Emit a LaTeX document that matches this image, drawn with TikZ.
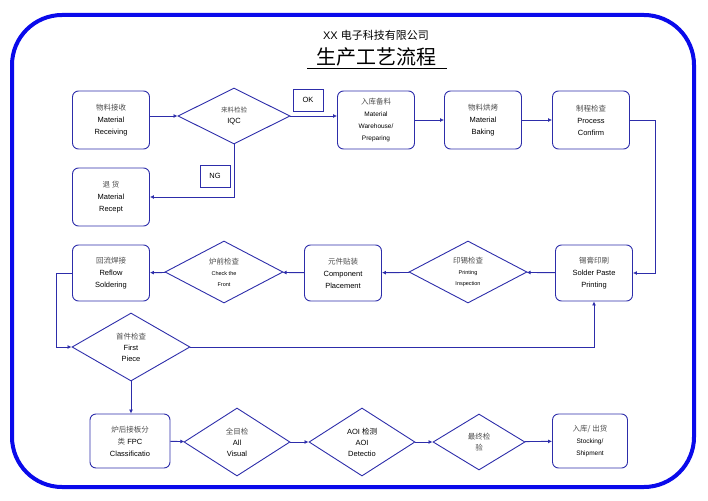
\documentclass[tikz,border=0pt]{standalone}
\usepackage{fontspec}
\setmainfont{Liberation Sans}
\newfontfamily\cjk{Noto Sans CJK SC}
\usetikzlibrary{shapes.geometric,arrows.meta}
\definecolor{frameblue}{RGB}{10,10,235}
\definecolor{nb}{RGB}{45,45,170}
\begin{document}
\begin{tikzpicture}[x=1pt,y=-1pt,
 box/.style={draw=nb,line width=0.9pt,rounded corners=6pt,minimum width=77pt,minimum height=58pt,align=center,font=\fontsize{7.5}{12}\selectfont,text=black},
 dia/.style={draw=nb,line width=0.9pt,diamond,inner sep=0pt,align=center,font=\fontsize{7.5}{11}\selectfont},
 tag/.style={draw=nb,line width=0.8pt,minimum width=30pt,minimum height=22pt,font=\fontsize{7.5}{9}\selectfont},
 con/.style={draw=nb,line width=0.9pt,-{Latex[length=4pt,width=4pt]}}]
\useasboundingbox (0,0) rectangle (708,500);
\draw[frameblue,line width=4pt,rounded corners=50pt] (12,15) rectangle (694,487);
\node (t1) at (376,35) {\fontsize{11}{13}\selectfont XX {\cjk 电子科技有限公司}};
\node (t2) at (376,57) {\fontsize{20}{22}\selectfont\cjk 生产工艺流程\ };
\draw[line width=0.8pt] (307,68) -- (447,68);
% row 1
\node[box] (a) at (111,120) {{\cjk\color{black!70}物料接收}\\Material\\Receiving};
\node[dia,aspect=2,minimum width=112pt,minimum height=56pt] (b) at (234,116) {{\cjk\color{black!70}\fontsize{6.5}{9}\selectfont 来料检验}\\IQC};
\node[tag] (ok) at (308,100) {OK};
\node[box] (c) at (376,120) {{\cjk\color{black!70}入库备料}\\{\fontsize{6.5}{9}\selectfont Material}\\{\fontsize{6.5}{9}\selectfont Warehouse/}\\{\fontsize{6.5}{9}\selectfont Preparing}};
\node[box] (d) at (483,120) {{\cjk\color{black!70}物料烘烤}\\Material\\Baking};
\node[box] (e) at (591,120) {{\cjk\color{black!70}制程检查}\\Process\\Confirm};
\node[box] (r) at (111,197) {{\cjk\color{black!70}退\ 货}\\Material\\Recept};
\node[tag] (ng) at (215,176) {NG};
% row 2
\node[box,minimum height=56pt] (f) at (594,273) {{\cjk\color{black!70}锡膏印刷}\\Solder Paste\\Printing};
\node[dia,aspect=1.9,minimum width=118pt,minimum height=62pt] (g) at (468,272) {{\cjk\color{black!70}印锡检查}\\{\fontsize{5.5}{7}\selectfont Printing}\\{\fontsize{5.5}{7}\selectfont Inspection}};
\node[box,minimum height=56pt] (h) at (343,273) {{\cjk\color{black!70}元件贴装}\\Component\\Placement};
\node[dia,aspect=1.9,minimum width=118pt,minimum height=62pt] (i) at (224,272) {{\cjk\color{black!70}炉前检查}\\{\fontsize{5.5}{7}\selectfont Check the}\\{\fontsize{5.5}{7}\selectfont Front}};
\node[box,minimum height=56pt] (j) at (111,273) {{\cjk\color{black!70}回流焊接}\\Reflow\\Soldering};
\node[dia,aspect=1.75,minimum width=118pt,minimum height=68pt] (k) at (131,347) {{\cjk\color{black!70}首件检查}\\First\\Piece};
% row 3
\node[box,minimum width=80pt,minimum height=54pt] (l) at (130,441) {{\cjk\color{black!70}炉后接板分}\\{\cjk\color{black!70}类} FPC\\Classificatio};
\node[dia,aspect=1.55,minimum width=106pt,minimum height=68pt] (m) at (237,442) {{\cjk\color{black!70}全目检}\\All\\Visual};
\node[dia,aspect=1.55,minimum width=106pt,minimum height=68pt] (n) at (362,442) {AOI {\cjk 检测}\\AOI\\Detectio};
\node[dia,aspect=1.65,minimum width=92pt,minimum height=56pt] (o) at (479,442) {{\cjk\color{black!70}最终检}\\{\cjk\color{black!70}验}};
\node[box,minimum width=75pt,minimum height=54pt] (p) at (590,441) {{\cjk\color{black!70}入库/ 出货}\\{\fontsize{6.5}{9}\selectfont Stocking/}\\{\fontsize{6.5}{9}\selectfont Shipment}};
% connectors
\draw[con] (a.east|-b.west) -- (b.west);
\draw[con] (b.east) -- (c.west|-b.east);
\draw[con] (c) -- (d);
\draw[con] (d) -- (e);
\draw[con] (b.south) |- (r.east);
\draw[con] (e.east) -- ++(25,0) |- (f.east);
\draw[con] (f) -- (g);
\draw[con] (g) -- (h);
\draw[con] (h) -- (i);
\draw[con] (i) -- (j);
\draw[con] (j.west) -- ++(-16,0) |- (k.west);
\draw[con] (k.east) -| (f.south);
\draw[con] (k.south) -- (k.south|-l.north);
\draw[con] (l) -- (m);
\draw[con] (m) -- (n);
\draw[con] (n) -- (o);
\draw[con] (o) -- (p);
\end{tikzpicture}
\end{document}
